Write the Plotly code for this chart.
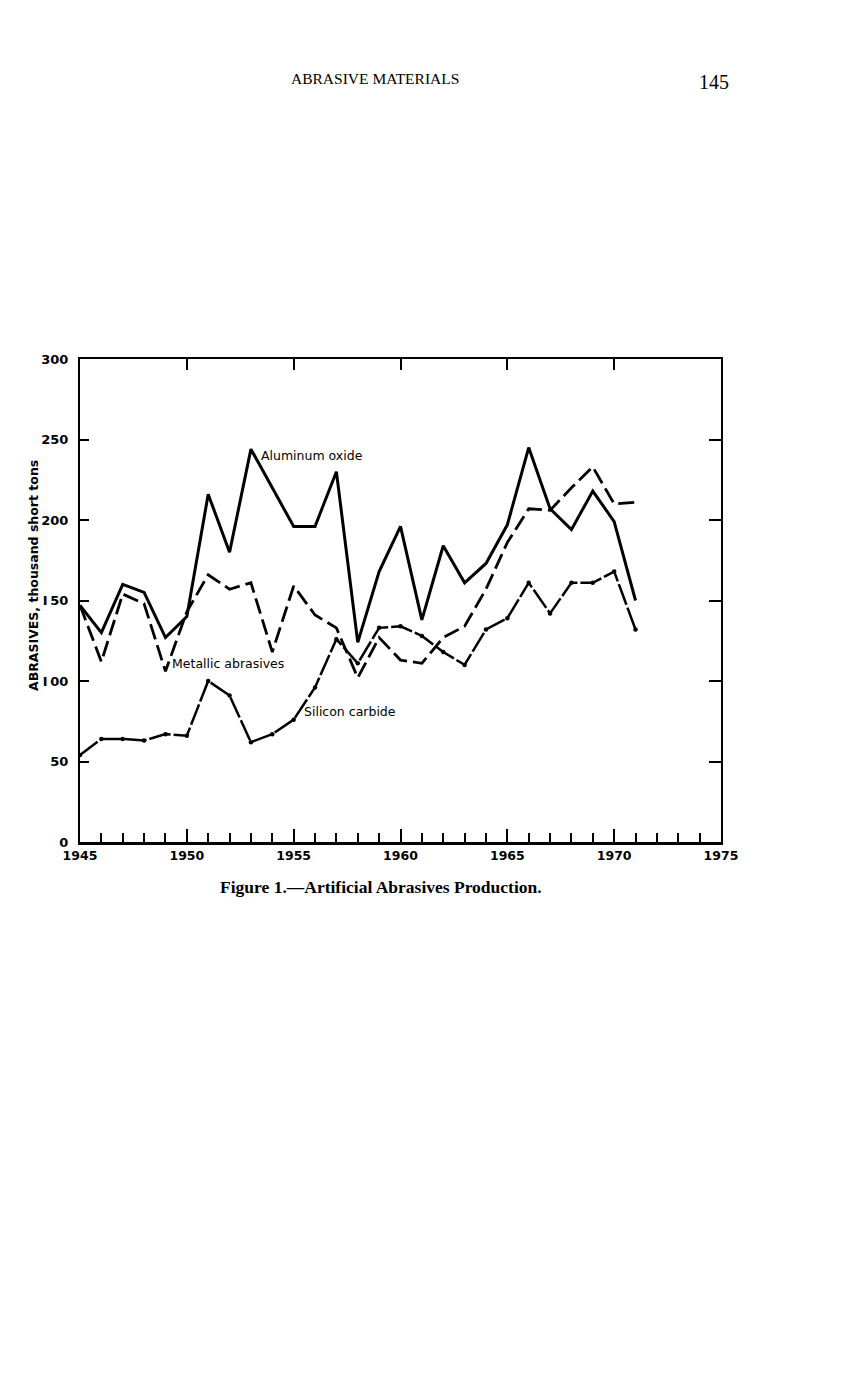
import plotly.graph_objects as go

years = list(range(1945, 1972))
aluminum_oxide = [147, 130, 160, 155, 127, 140, 216, 180, 244, 220, 196, 196, 230, 124, 168, 196,
                  138, 184, 161, 173, 197, 245, 207, 194, 218, 199, 150]
metallic = [147, 112, 154, 148, 106, 143, 166, 157, 161, 118, 159, 141, 133, 102, 127, 113,
            111, 127, 134, 157, 186, 207, 206, 220, 233, 210, 211]
silicon_carbide = [54, 64, 64, 63, 67, 66, 100, 91, 62, 67, 76, 96, 126, 111, 133, 134,
                   128, 118, 110, 132, 139, 161, 142, 161, 161, 168, 132]

x_ticks = [1945, 1950, 1955, 1960, 1965, 1970, 1975]
y_ticks = [0, 50, 100, 150, 200, 250, 300]
y_tick_text = ["0", "50", "I\u200900", "I\u200950", "200", "250", "300"]

SANS = "DejaVu Sans, Liberation Sans, sans-serif"
SERIF = "Liberation Serif, DejaVu Serif, serif"

fig = go.Figure()
fig.add_trace(go.Scatter(x=years, y=aluminum_oxide, mode="lines",
                         line=dict(color="black", width=3), name="Aluminum oxide"))
fig.add_trace(go.Scatter(x=years, y=metallic, mode="lines",
                         line=dict(color="black", width=2.8, dash="16px,6px"), name="Metallic abrasives"))
fig.add_trace(go.Scatter(x=years, y=silicon_carbide, mode="lines+markers",
                         line=dict(color="black", width=2.5, dash="22px,3px"),
                         marker=dict(color="black", size=4.5), name="Silicon carbide"))
# invisible trace for the mirrored top/right axes
fig.add_trace(go.Scatter(x=[1945], y=[0], xaxis="x2", yaxis="y2", mode="markers",
                         marker=dict(opacity=0), showlegend=False, hoverinfo="skip"))

fig.update_layout(
    width=848, height=1380,
    paper_bgcolor="white", plot_bgcolor="white",
    showlegend=False,
    margin=dict(l=72, r=135, t=351, b=546),
    xaxis=dict(range=[1945, 1975], tickvals=x_ticks, ticktext=[str(v) for v in x_ticks],
               showgrid=False, zeroline=False, showline=True, linecolor="black", linewidth=3,
               ticks="inside", ticklen=13, tickwidth=2, tickcolor="black",
               minor=dict(dtick=1, tick0=1945, ticks="inside", ticklen=9, tickwidth=1.8, tickcolor="black"),
               tickfont=dict(family=SANS, size=12.5, color="black", weight="bold")),
    yaxis=dict(range=[0, 300], tickvals=y_ticks, ticktext=y_tick_text,
               showgrid=False, zeroline=False, showline=True, linecolor="black", linewidth=2,
               ticks="inside", ticklen=9, tickwidth=1.8, tickcolor="black", ticklabelstandoff=7,
               tickfont=dict(family=SANS, size=13, color="black", weight="bold")),
    xaxis2=dict(range=[1945, 1975], overlaying="x", side="top", anchor="y",
                tickvals=[1950, 1955, 1960, 1965, 1970], showticklabels=False,
                showgrid=False, zeroline=False, showline=True, linecolor="black", linewidth=2,
                ticks="inside", ticklen=11, tickwidth=1.8, tickcolor="black"),
    yaxis2=dict(range=[0, 300], overlaying="y", side="right", anchor="x",
                tickvals=[50, 100, 150, 200, 250], showticklabels=False,
                showgrid=False, zeroline=False, showline=True, linecolor="black", linewidth=2,
                ticks="inside", ticklen=12, tickwidth=1.8, tickcolor="black"),
)

# y-axis title (placed as in the original, a little above the axis centre)
fig.add_annotation(xref="paper", yref="paper", x=(32 - 79) / 641, y=(841 - 575) / 483,
                   text="ABRASIVES, thousand short tons", textangle=-90, showarrow=False,
                   xanchor="center", yanchor="middle",
                   font=dict(family=SANS, size=12.5, color="black", weight="bold"))

ann_font = dict(family=SANS, size=12.5, color="black")
fig.add_annotation(x=1953.4, y=240, text="Aluminum oxide", showarrow=False, xanchor="left",
                   font=ann_font)
fig.add_annotation(x=1949.2, y=111, text="Metallic abrasives", showarrow=False, xanchor="left",
                   font=ann_font)
fig.add_annotation(x=1955.4, y=81, text="Silicon carbide", showarrow=False, xanchor="left",
                   font=ann_font)

fig.add_annotation(xref="paper", yref="paper", x=(374 - 79) / 641, y=1 + (358 - 77) / 483,
                   text="ABRASIVE MATERIALS", showarrow=False, xanchor="center", yanchor="middle",
                   font=dict(family=SERIF, size=15.5, color="black"))
fig.add_annotation(xref="paper", yref="paper", x=(713 - 79) / 641, y=1 + (358 - 81) / 483,
                   text="145", showarrow=False, xanchor="center", yanchor="middle",
                   font=dict(family=SERIF, size=20, color="black"))
fig.add_annotation(xref="paper", yref="paper", x=(380 - 79) / 641, y=-(886 - 841) / 483,
                   text="Figure 1.\u2014Artificial Abrasives Production.", showarrow=False,
                   xanchor="center", yanchor="middle",
                   font=dict(family=SERIF, size=17.5, color="black", weight="bold"))

fig.write_html("out.html")
